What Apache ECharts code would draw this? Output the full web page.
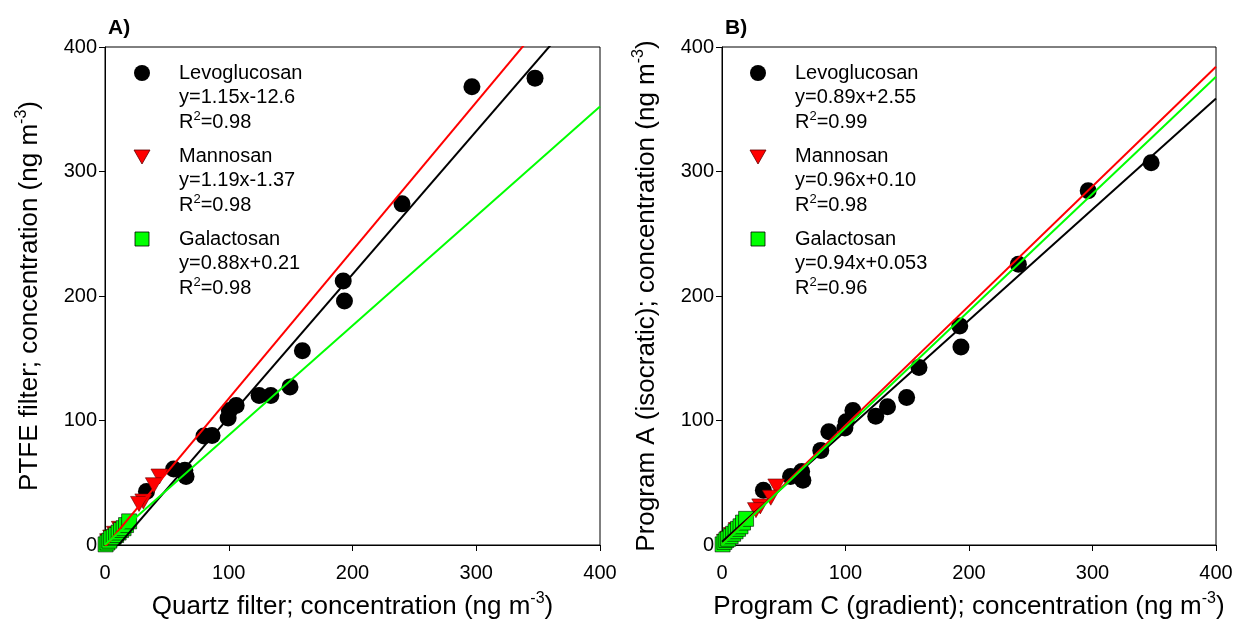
<!DOCTYPE html>
<html>
<head>
<meta charset="utf-8">
<script src="https://cdn.jsdelivr.net/npm/echarts@6/dist/echarts.min.js"></script>
<style>html,body{margin:0;padding:0;background:#fff;}#c{width:1237px;height:627px;}</style>
</head>
<body>
<div id="c"></div>
<script>
// ---- data ----
const levoX  = [347.5, 296.5, 240, 192.5, 193.5, 159.5, 149.5, 134, 124.5, 106, 100.5, 99.5, 86.5, 80, 65.5, 64.5, 55.5, 33.5, 15, 11, 8, 4.5];
const levoA  = [375, 368, 274, 212, 196, 156, 127, 120, 120, 112, 108, 102, 88, 87.5, 55, 60, 61, 43, 13, 9, 6, 3];
const levoB  = [307, 284.5, 225.5, 176, 159, 142.5, 118.5, 111, 103.5, 108, 99, 94, 91, 76, 52, 59, 55, 44, 16, 12, 9, 6];
const mannoX = [44, 39.5, 31, 27.5, 12, 8, 5, 2.5];
const mannoA = [55, 48, 35, 33, 13, 9, 6, 3];
const mannoB = [47, 38, 31, 28, 12, 8, 5, 2.5];
const galX   = [0.5, 2, 3.5, 5, 7, 9, 11, 13, 15, 17, 19.5];
const galA   = [0.5, 2, 3.5, 5.5, 6.5, 8, 10, 12, 13.5, 16, 19];
const galB   = [0.5, 2.5, 4, 5, 7, 9, 11, 13, 15, 18, 21];
const seriesNames = ['Levoglucosan', 'Mannosan', 'Galactosan'];
const slopeA = [1.15, 1.19, 0.88];
const interA = [-12.6, -1.37, 0.21];
const slopeB = [0.89, 0.96, 0.94];
const interB = [2.55, 0.10, 0.053];
const eqA = ['y=1.15x-12.6', 'y=1.19x-1.37', 'y=0.88x+0.21'];
const r2A = ['0.98', '0.98', '0.98'];
const eqB = ['y=0.89x+2.55', 'y=0.96x+0.10', 'y=0.94x+0.053'];
const r2B = ['0.99', '0.98', '0.96'];
const axisTicks = [0, 100, 200, 300, 400];
const panelLabels = ['A)', 'B)'];
const xTitles = [['Quartz filter; concentration (ng m', '-3', ')'], ['Program C (gradient); concentration (ng m', '-3', ')']];
const yTitles = [['PTFE filter; concentration (ng m', '-3', ')'], ['Program A (isocratic); concentration (ng m', '-3', ')']];

const FONT = 'Liberation Sans, Arial, sans-serif';
const colors = ['#000000', '#ff0000', '#00ff00'];
const zip = (xs, ys) => xs.map((x, i) => [x, ys[i]]);
const xMin = axisTicks[0], xMax = axisTicks[axisTicks.length - 1];
const fitLine = (a, b) => [[xMin, a * xMin + b], [xMax, a * xMax + b]];

const grids = [
  {left: 105, top: 47, width: 495, height: 498},
  {left: 722, top: 47, width: 494, height: 498}
];

const titleRich = {
  t: {fontSize: 26, fontFamily: FONT, color: '#000', lineHeight: 32},
  s: {fontSize: 16, fontFamily: FONT, color: '#000', verticalAlign: 'top', lineHeight: 16}
};
const richName = p => `{t|${p[0]}}{s|${p[1]}}{t|${p[2]}}`;

function mkX(i) {
  return {
    type: 'value', gridIndex: i, min: xMin, max: xMax, interval: 100,
    name: richName(xTitles[i]), nameLocation: 'middle', nameGap: 46,
    nameTextStyle: {rich: titleRich},
    axisLine: {show: true, lineStyle: {color: '#000', width: 1}},
    axisTick: {show: true, inside: false, length: 6, lineStyle: {color: '#000'}},
    axisLabel: {fontSize: 20, fontFamily: FONT, color: '#000', margin: 18},
    splitLine: {show: false}
  };
}
function mkY(i) {
  return {
    type: 'value', gridIndex: i, min: xMin, max: xMax, interval: 100,
    name: richName(yTitles[i]), nameLocation: 'middle', nameGap: 59,
    nameTextStyle: {rich: titleRich},
    axisLine: {show: true, lineStyle: {color: '#000', width: 1}},
    axisTick: {show: true, inside: false, length: 6, lineStyle: {color: '#000'}},
    axisLabel: {fontSize: 20, fontFamily: FONT, color: '#000', margin: 8},
    splitLine: {show: false}
  };
}

const series = [];
const panelData = [
  {ys: [levoA, mannoA, galA], slope: slopeA, inter: interA},
  {ys: [levoB, mannoB, galB], slope: slopeB, inter: interB}
];
const xsAll = [levoX, mannoX, galX];
panelData.forEach((p, pi) => {
  series.push({type: 'scatter', name: seriesNames[0], xAxisIndex: pi, yAxisIndex: pi, z: 2,
    symbol: 'circle', symbolSize: 17, itemStyle: {color: '#000', opacity: 1},
    data: zip(xsAll[0], p.ys[0]), silent: true});
  series.push({type: 'scatter', name: seriesNames[1], xAxisIndex: pi, yAxisIndex: pi, z: 3,
    symbol: 'triangle', symbolRotate: 180, symbolSize: [17, 15],
    itemStyle: {color: '#ff0000', borderColor: '#600000', borderWidth: 0.6, opacity: 1},
    data: zip(xsAll[1], p.ys[1]), silent: true});
  series.push({type: 'scatter', name: seriesNames[2], xAxisIndex: pi, yAxisIndex: pi, z: 4,
    symbol: 'rect', symbolSize: 15,
    itemStyle: {color: '#00ff00', borderColor: '#000', borderWidth: 0.6, opacity: 1},
    data: zip(xsAll[2], p.ys[2]), silent: true});
  for (let k = 0; k < 3; k++) {
    series.push({type: 'line', xAxisIndex: pi, yAxisIndex: pi, z: 5, clip: true,
      showSymbol: false, symbol: 'none', silent: true,
      lineStyle: {color: colors[k], width: 2},
      data: fitLine(p.slope[k], p.inter[k])});
  }
});

const graphic = [];
const legendIconX = [142, 758];
const legendTextX = [179, 795];
const blockY = [73, 156, 239];
const lineStep = 24.5;
const eqs = [eqA, eqB], r2s = [r2A, r2B];
const txtStyle = {fontSize: 20, fontFamily: FONT, fill: '#000'};
[0, 1].forEach(pi => {
  const cx = legendIconX[pi];
  graphic.push({type: 'circle', shape: {cx: cx, cy: blockY[0], r: 8}, style: {fill: '#000'}});
  graphic.push({type: 'polygon', shape: {points: [[cx - 8, blockY[1] - 6], [cx + 8, blockY[1] - 6], [cx, blockY[1] + 8]]},
    style: {fill: '#ff0000', stroke: '#600000', lineWidth: 0.8}});
  graphic.push({type: 'rect', shape: {x: cx - 7, y: blockY[2] - 7, width: 14, height: 14},
    style: {fill: '#00ff00', stroke: '#000', lineWidth: 0.8}});
  for (let k = 0; k < 3; k++) {
    const y0 = blockY[k];
    graphic.push({type: 'text', x: legendTextX[pi], y: y0, style: Object.assign({text: seriesNames[k], verticalAlign: 'middle'}, txtStyle)});
    graphic.push({type: 'text', x: legendTextX[pi], y: y0 + lineStep, style: Object.assign({text: eqs[pi][k], verticalAlign: 'middle'}, txtStyle)});
    graphic.push({type: 'text', x: legendTextX[pi], y: y0 + 2 * lineStep, style: {
      text: `{r|R}{s|2}{r|=${r2s[pi][k]}}`, verticalAlign: 'middle',
      rich: {r: {fontSize: 20, fontFamily: FONT, fill: '#000', lineHeight: 24},
             s: {fontSize: 13, fontFamily: FONT, fill: '#000', verticalAlign: 'top', lineHeight: 13}}}});
  }
  graphic.push({type: 'text', x: grids[pi].left + 3, y: 28, style: {text: panelLabels[pi], fontSize: 21, fontWeight: 'bold', fontFamily: FONT, fill: '#000', verticalAlign: 'middle'}});
});

const chart = echarts.init(document.getElementById('c'), null, {renderer: 'canvas'});
chart.setOption({
  animation: false,
  backgroundColor: '#fff',
  grid: grids.map(g => Object.assign({show: true, borderColor: '#000', borderWidth: 1, backgroundColor: 'transparent', containLabel: false}, g)),
  xAxis: [mkX(0), mkX(1)],
  yAxis: [mkY(0), mkY(1)],
  series: series,
  graphic: graphic
});
</script>
</body>
</html>
